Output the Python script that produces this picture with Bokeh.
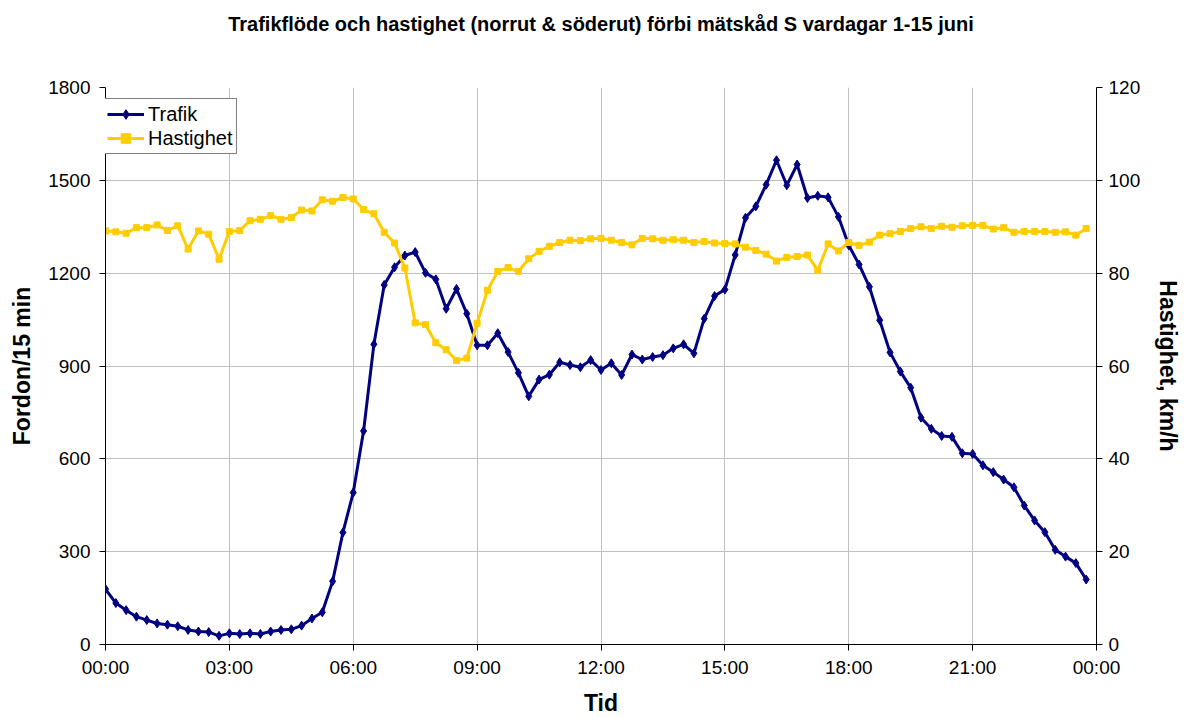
from bokeh.plotting import figure
from bokeh.models import (Range1d, LinearAxis, FixedTicker, Legend, LegendItem, Title)
from bokeh.embed import file_html
from bokeh.resources import INLINE

# Vardagsmedel per kvart, 00:00-23:45
trafik = [179, 134, 111, 90, 79, 68, 64, 59, 47, 42, 40, 28,
          36, 34, 36, 34, 42, 47, 49, 61, 84, 104, 204, 362,
          491, 690, 970, 1162, 1219, 1257, 1268, 1201, 1180, 1085, 1149, 1069,
          967, 967, 1006, 945, 878, 802, 856, 872, 912, 903, 896, 919,
          887, 909, 871, 937, 921, 929, 935, 957, 970, 941, 1053, 1126,
          1147, 1259, 1379, 1416, 1486, 1565, 1484, 1551, 1443, 1450, 1445, 1382,
          1290, 1228, 1156, 1048, 944, 882, 830, 733, 697, 674, 671, 618,
          616, 579, 557, 533, 508, 449, 401, 363, 306, 284, 263, 210]

hastighet = [89.1, 88.9, 88.6, 89.8, 89.8, 90.4, 89.2, 90.2, 85.2, 89.1, 88.4, 83.0,
             89.0, 89.2, 91.3, 91.6, 92.4, 91.6, 92.0, 93.6, 93.4, 95.8, 95.5, 96.3,
             96.0, 93.7, 92.8, 88.8, 86.5, 81.1, 69.3, 68.9, 65.0, 63.5, 61.2, 61.7,
             69.2, 76.3, 80.4, 81.2, 80.4, 83.1, 84.7, 85.8, 86.6, 87.1, 87.0, 87.4,
             87.5, 87.1, 86.6, 86.1, 87.5, 87.4, 87.1, 87.2, 87.1, 86.6, 86.8, 86.5,
             86.4, 86.3, 85.6, 84.9, 84.1, 82.6, 83.4, 83.6, 83.9, 80.6, 86.3, 84.8,
             86.6, 86.0, 86.7, 88.2, 88.5, 89.0, 89.6, 90.0, 89.6, 90.1, 89.9, 90.2,
             90.3, 90.3, 89.5, 89.8, 88.8, 89.0, 89.0, 89.0, 88.8, 88.9, 88.2, 89.6]

# kvartens start i timmar
tid = [i * 0.25 for i in range(len(trafik))]

tid_ticks = [0, 3, 6, 9, 12, 15, 18, 21, 24]
tid_labels = ["00:00", "03:00", "06:00", "09:00", "12:00", "15:00", "18:00", "21:00", "00:00"]
fordon_ticks = [0, 300, 600, 900, 1200, 1500, 1800]
hast_ticks = [0, 20, 40, 60, 80, 100, 120]

rubrik = "Trafikflöde och hastighet (norrut & söderut) förbi mätskåd S vardagar 1-15 juni"

FONT = "Liberation Sans"
NAVY = "#000080"
GOLD = "#FFCC00"

p = figure(width=1184, height=718, output_backend="svg", toolbar_location=None,
           x_range=Range1d(0, 24), y_range=Range1d(0, 1800),
           min_border_left=105, min_border_right=84,
           min_border_top=86, min_border_bottom=74)
p.extra_y_ranges = {"hast": Range1d(0, 120)}
p.outline_line_color = None
p.background_fill_color = "white"
p.border_fill_color = "white"

# luft närmast ritytan, rubriken ytterst
luft = Title(text=" ", text_font_size="1px", standoff=40)
p.add_layout(luft, "above")
titel = Title(text=rubrik, align="center", text_font=FONT, text_font_size="20px",
              text_font_style="bold", text_color="black", standoff=20)
p.add_layout(titel, "above")

# axlar
xa = p.xaxis[0]
xa.ticker = FixedTicker(ticks=tid_ticks)
xa.major_label_overrides = {t: s for t, s in zip(tid_ticks, tid_labels)}
xa.axis_label = "Tid"

ya = p.yaxis[0]
ya.ticker = FixedTicker(ticks=fordon_ticks)
ya.axis_label = "Fordon/15 min"

ra = LinearAxis(y_range_name="hast", ticker=FixedTicker(ticks=hast_ticks),
                axis_label="Hastighet, km/h")
ra.axis_label_orientation = "vertical"
p.add_layout(ra, "right")

for ax in (xa, ya, ra):
    ax.axis_line_color = "black"
    ax.axis_line_width = 1
    ax.major_tick_line_color = "black"
    ax.major_tick_out = 6
    ax.major_tick_in = 0
    ax.minor_tick_line_color = None
    ax.major_label_text_font = FONT
    ax.major_label_text_font_size = "19px"
    ax.major_label_text_color = "black"
    ax.axis_label_text_font = FONT
    ax.axis_label_text_font_size = "23px"
    ax.axis_label_text_font_style = "bold"
    ax.axis_label_text_color = "black"

xa.major_label_standoff = 6
xa.axis_label_standoff = 9
ya.major_label_standoff = 9
ya.axis_label_standoff = 10
ra.major_label_standoff = 6
ra.axis_label_standoff = 12

p.xgrid.ticker = FixedTicker(ticks=tid_ticks)
p.ygrid.ticker = FixedTicker(ticks=fordon_ticks)
for g in (p.xgrid[0], p.ygrid[0]):
    g.grid_line_color = "#c0c0c0"
    g.grid_line_width = 1

# serier
l_t = p.line(tid, trafik, line_color=NAVY, line_width=3)
m_t = p.scatter(tid, trafik, marker="diamond", size=9, fill_color=NAVY, line_color=NAVY)
l_h = p.line(tid, hastighet, y_range_name="hast", line_color=GOLD, line_width=3)
m_h = p.scatter(tid, hastighet, y_range_name="hast", marker="square", size=6,
                fill_color=GOLD, line_color=GOLD)

legend = Legend(items=[LegendItem(label="Trafik", renderers=[l_t, m_t]),
                       LegendItem(label="Hastighet", renderers=[l_h, m_h])],
                location=(-2, 490))
legend.label_text_font = FONT
legend.label_text_font_size = "20px"
legend.label_text_color = "black"
legend.border_line_color = "black"
legend.border_line_width = 1
legend.background_fill_color = "white"
legend.background_fill_alpha = 1
legend.padding = 3
legend.spacing = 0
legend.margin = 0
legend.glyph_width = 37
legend.label_standoff = 4
legend.label_height = 24
legend.glyph_height = 24
p.add_layout(legend, "center")

open("out.html", "w").write(file_html(p, INLINE))
